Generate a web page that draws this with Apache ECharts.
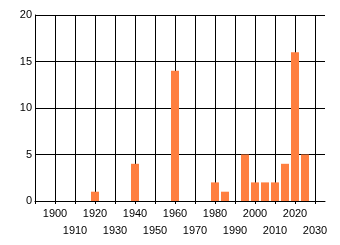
<!DOCTYPE html>
<html><head><meta charset="utf-8">
<script src="https://cdn.jsdelivr.net/npm/echarts@6/dist/echarts.min.js"></script>
<style>html,body{margin:0;padding:0;background:#fff}#c{width:340px;height:245px}</style>
</head><body><div id="c"></div>
<script>
var years = [1920, 1940, 1960, 1980, 1985, 1995, 2000, 2005, 2010, 2015, 2020, 2025];
var counts = [1, 4, 14, 2, 1, 5, 2, 2, 2, 4, 16, 5];
var yTicks = [0, 5, 10, 15, 20];

var chart = echarts.init(document.getElementById('c'), null, {renderer: 'canvas'});
var font = {fontFamily: 'Liberation Sans', fontSize: 11, color: '#000'};
chart.setOption({
  animation: false,
  grid: {left: 35, right: 15, top: 15, bottom: 44},
  xAxis: {
    type: 'value', min: 1890, max: 2035, interval: 10,
    axisLine: {show: true, onZero: false, lineStyle: {color: '#000', width: 1}},
    axisTick: {show: true, length: 3, lineStyle: {color: '#000'}},
    splitLine: {show: true, showMaxLine: false, lineStyle: {color: '#000', width: 1}},
    axisLabel: Object.assign({
      margin: 4, lineHeight: 17, showMaxLabel: false,
      formatter: function (v) {
        if (v < 1900 || v > 2030) return '';
        return ((v - 1900) / 10) % 2 === 1 ? '\n' + v : '' + v;
      }
    }, font)
  },
  yAxis: {
    type: 'value', min: yTicks[0], max: yTicks[yTicks.length - 1], interval: 5,
    axisLine: {show: true, lineStyle: {color: '#000', width: 1}},
    axisTick: {show: false},
    splitLine: {show: true, lineStyle: {color: '#000', width: 1}},
    axisLabel: Object.assign({margin: 3}, font)
  },
  series: [{
    type: 'bar',
    barWidth: 8,
    itemStyle: {color: '#FF7F40'},
    data: years.map(function (y, i) { return [y, counts[i]]; })
  }]
});
</script></body></html>
